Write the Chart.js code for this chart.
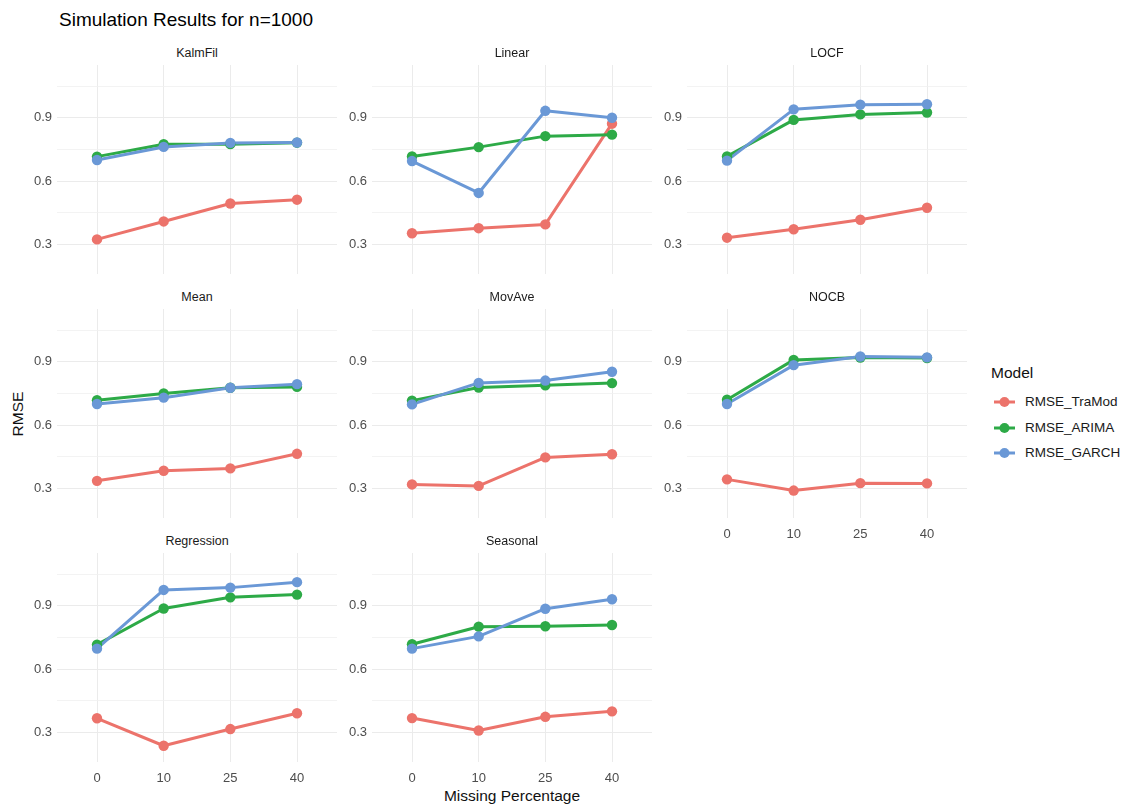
<!DOCTYPE html>
<html><head><meta charset="utf-8">
<script src="https://cdn.jsdelivr.net/npm/chart.js@4/dist/chart.umd.min.js"></script>
<style>
html,body{margin:0;padding:0;background:#fff;}
body{width:1123px;height:808px;position:relative;overflow:hidden;font-family:"Liberation Sans",Arial,sans-serif;}
canvas{position:absolute;}
.txt{position:absolute;white-space:nowrap;}
.strip{position:absolute;width:280px;text-align:center;font-size:12.5px;color:#1a1a1a;line-height:14px;}
</style></head><body>
<div class="txt" style="left:59px;top:9px;font-size:19px;line-height:22px;color:#000;">Simulation Results for n=1000</div>
<div class="txt" style="left:412px;top:787px;width:200px;text-align:center;font-size:15.5px;line-height:18px;color:#111;">Missing Percentage</div>
<div class="txt" style="left:-12px;top:405px;width:60px;text-align:center;font-size:15.5px;line-height:18px;color:#111;transform:rotate(-90deg);">RMSE</div>
<div id="legend"></div>
<script>
// ---- data ----
const categories = ['0', '10', '25', '40'];
const panelNames = ['KalmFil', 'Linear', 'LOCF', 'Mean', 'MovAve', 'NOCB', 'Regression', 'Seasonal'];
const rmseTraMod = [
  [0.324, 0.409, 0.494, 0.512],
  [0.353, 0.377, 0.395, 0.872],
  [0.332, 0.372, 0.417, 0.474],
  [0.336, 0.384, 0.395, 0.464],
  [0.319, 0.312, 0.447, 0.462],
  [0.343, 0.290, 0.325, 0.324],
  [0.367, 0.237, 0.316, 0.391],
  [0.368, 0.309, 0.374, 0.400]
];
const rmseARIMA = [
  [0.716, 0.775, 0.775, 0.782],
  [0.717, 0.761, 0.813, 0.820],
  [0.717, 0.890, 0.916, 0.925],
  [0.718, 0.750, 0.777, 0.781],
  [0.716, 0.778, 0.789, 0.799],
  [0.720, 0.909, 0.920, 0.918],
  [0.716, 0.887, 0.940, 0.953],
  [0.718, 0.801, 0.803, 0.809]
];
const rmseGARCH = [
  [0.700, 0.762, 0.781, 0.783],
  [0.695, 0.544, 0.933, 0.900],
  [0.697, 0.940, 0.962, 0.964],
  [0.700, 0.730, 0.777, 0.794],
  [0.698, 0.800, 0.811, 0.853],
  [0.700, 0.884, 0.925, 0.921],
  [0.697, 0.975, 0.986, 1.012],
  [0.697, 0.755, 0.886, 0.931]
];
const seriesNames = ['RMSE_TraMod', 'RMSE_ARIMA', 'RMSE_GARCH'];
const seriesColors = ['#EC736B', '#2DAA47', '#6A98D6'];
const yTickValues = [0.3, 0.45, 0.6, 0.75, 0.9, 1.05];
const yTickLabels = ['0.3', '', '0.6', '', '0.9', ''];

// ---- layout ----
const colLeft = [57, 372, 687];
const rowTop = [65, 309, 553];
const panelW = 280, panelH = 209, yAxisW = 45, xAxisH = 26;
const FONT = '"Liberation Sans", Arial, sans-serif';

const allSeries = [rmseTraMod, rmseARIMA, rmseGARCH];

panelNames.forEach((name, i) => {
  const col = i % 3, row = Math.floor(i / 3);
  const hasX = (row === 2) || (i === 5);
  const cv = document.createElement('canvas');
  cv.width = yAxisW + panelW;
  cv.height = panelH + (hasX ? xAxisH : 0);
  cv.style.left = (colLeft[col] - yAxisW) + 'px';
  cv.style.top = rowTop[row] + 'px';
  document.body.appendChild(cv);

  const strip = document.createElement('div');
  strip.className = 'strip';
  strip.style.left = colLeft[col] + 'px';
  strip.style.top = (rowTop[row] - 19) + 'px';
  strip.textContent = name;
  document.body.appendChild(strip);

  const datasets = [];
  allSeries.forEach((ser, s) => {
    const pts = ser[i].map((v, k) => ({x: k, y: v}));
    datasets.push({label: seriesNames[s], data: pts, borderColor: seriesColors[s], borderWidth: 3,
      pointRadius: 0, fill: false, tension: 0, order: 6 - s, borderJoinStyle: 'round', borderCapStyle: 'round', clip: false});
  });
  allSeries.forEach((ser, s) => {
    const pts = ser[i].map((v, k) => ({x: k, y: v}));
    datasets.push({label: seriesNames[s] + '_pts', data: pts, showLine: false, pointRadius: 5.2,
      pointBackgroundColor: seriesColors[s], pointBorderColor: seriesColors[s], pointBorderWidth: 0, order: 3 - s, clip: false});
  });

  new Chart(cv, {
    type: 'line',
    data: {datasets},
    options: {
      responsive: false, animation: false, events: [],
      layout: {padding: 0, autoPadding: false},
      plugins: {legend: {display: false}, tooltip: {enabled: false}, title: {display: false}},
      scales: {
        x: {
          type: 'linear', min: -0.6, max: 3.6,
          afterBuildTicks: sc => { sc.ticks = categories.map((c, k) => ({value: k})); },
          afterFit: sc => { sc.height = hasX ? xAxisH : 0; sc.paddingLeft = 0; sc.paddingRight = 0; sc.paddingTop = 0; sc.paddingBottom = 0; },
          ticks: {display: hasX, autoSkip: false, maxRotation: 0, padding: 9, color: '#4d4d4d',
            font: {family: FONT, size: 13}, callback: v => categories[v]},
          grid: {color: '#ebebeb', lineWidth: 1, drawTicks: false},
          border: {display: false}
        },
        y: {
          type: 'linear', min: 0.16, max: 1.15,
          afterBuildTicks: sc => { sc.ticks = yTickValues.map(v => ({value: v})); },
          afterFit: sc => { sc.width = yAxisW; sc.paddingTop = 0; sc.paddingBottom = 0; sc.paddingLeft = 0; sc.paddingRight = 0; },
          ticks: {autoSkip: false, padding: 5, color: '#4d4d4d', font: {family: FONT, size: 13},
            callback: (v, idx) => yTickLabels[idx]},
          grid: {color: ctx => (yTickLabels[ctx.index] ? '#ebebeb' : '#f0f0f0'),
            lineWidth: ctx => (yTickLabels[ctx.index] ? 1 : 0.8), drawTicks: false},
          border: {display: false}
        }
      }
    }
  });
});

// ---- legend (HTML) ----
const lg = document.getElementById('legend');
let html = '<div class="txt" style="left:991px;top:364px;font-size:15.5px;line-height:18px;color:#111;">Model</div>';
const legendY = [402, 428, 453];
seriesNames.forEach((n, s) => {
  html += '<svg style="position:absolute;left:993px;top:' + (legendY[s] - 7) + 'px" width="24" height="14">' +
    '<line x1="1" y1="7" x2="22" y2="7" stroke="' + seriesColors[s] + '" stroke-width="3"/>' +
    '<circle cx="11.5" cy="7" r="5" fill="' + seriesColors[s] + '"/></svg>';
  html += '<div class="txt" style="left:1025px;top:' + (legendY[s] - 8) + 'px;font-size:13.5px;line-height:16px;color:#1a1a1a;">' + n + '</div>';
});
lg.innerHTML = html;
</script>
</body></html>
